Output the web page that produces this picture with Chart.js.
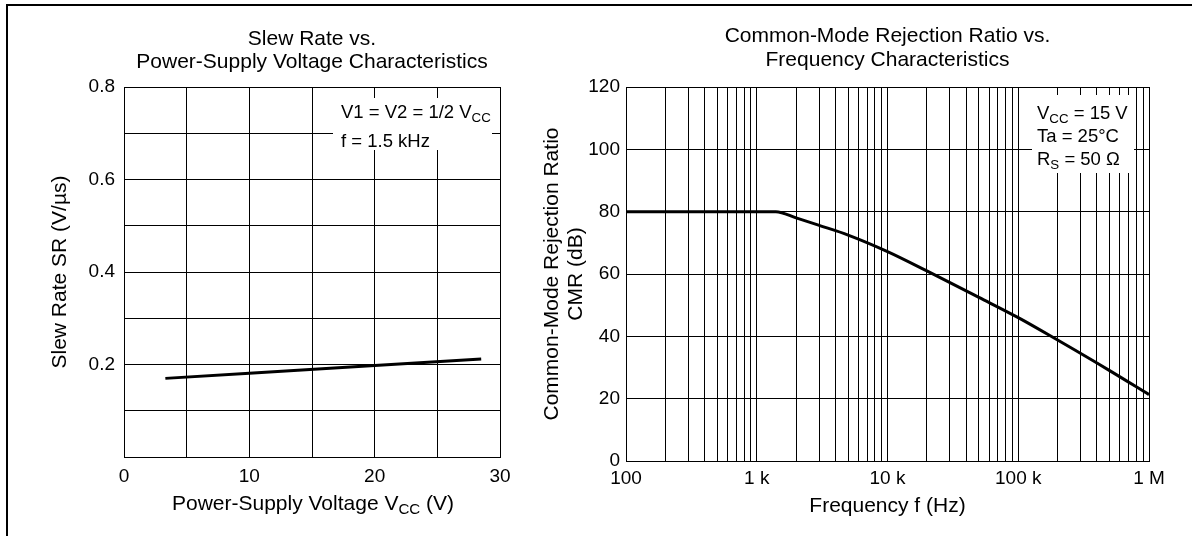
<!DOCTYPE html>
<html>
<head>
<meta charset="utf-8">
<script src="https://cdn.jsdelivr.net/npm/chart.js@4.4.1/dist/chart.umd.min.js"></script>
<style>
  html, body { margin: 0; padding: 0; background: #fff; }
  #wrap { position: relative; width: 1192px; height: 536px; overflow: hidden; background: #fff; }
  canvas { position: absolute; top: 0; }
  #c1 { left: 0; }
  #c2 { left: 520px; }
  .frameTop { position: absolute; left: 6px; top: 4px; width: 1186px; height: 2px; background: #000; }
  .frameLeft { position: absolute; left: 6px; top: 4px; width: 2px; height: 532px; background: #000; }
</style>
</head>
<body>
<div id="wrap">
  <div class="frameTop"></div>
  <div class="frameLeft"></div>
  <canvas id="c1" width="520" height="536"></canvas>
  <canvas id="c2" width="672" height="536"></canvas>
</div>
<script>
// ---------- Data: Slew rate vs supply voltage ----------
const vccValues = [3.3, 10, 20, 28.5];            // V
const srValues  = [0.170, 0.181, 0.198, 0.212];   // V/us
const vccTicks = [0, 5, 10, 15, 20, 25, 30];
const vccTickLabels = ['0', '', '10', '', '20', '', '30'];
const srTicks = [0, 0.1, 0.2, 0.3, 0.4, 0.5, 0.6, 0.7, 0.8];
const srTickLabels = ['', '', '0.2', '', '0.4', '', '0.6', '', '0.8'];

// ---------- Data: CMR vs frequency ----------
const freqValues = [100, 1000, 1400, 2000, 3000, 5000, 10000, 20000, 50000, 100000, 200000, 500000, 1000000]; // Hz
const cmrValues  = [80, 80, 80, 78.0, 75.6, 72.5, 67.2, 61.0, 52.5, 46.0, 38.8, 29.0, 21.3];                  // dB
const freqDecades = [100, 1000, 10000, 100000, 1000000];
const freqTickLabels = ['100', '1 k', '10 k', '100 k', '1 M'];
const cmrTicks = [0, 20, 40, 60, 80, 100, 120];
const cmrTickLabels = ['0', '20', '40', '60', '80', '100', '120'];

const FONT = '"Liberation Sans", Arial, Helvetica, sans-serif';
Chart.defaults.font.family = FONT;
Chart.defaults.color = '#000';

// draw text with optional subscript parts: parts = [[text, isSub], ...]
function partsWidth(ctx, parts, size) {
  let w = 0;
  for (const [t, sub] of parts) {
    ctx.font = (sub ? size * 0.72 : size) + 'px ' + FONT;
    w += ctx.measureText(t).width;
  }
  return w;
}
function drawParts(ctx, parts, x, y, size, align) {
  const total = partsWidth(ctx, parts, size);
  let cx = align === 'center' ? x - total / 2 : x;
  ctx.textBaseline = 'middle';
  ctx.textAlign = 'left';
  for (const [t, sub] of parts) {
    ctx.font = (sub ? size * 0.72 : size) + 'px ' + FONT;
    ctx.fillText(t, cx, sub ? y + size * 0.28 : y);
    cx += ctx.measureText(t).width;
  }
}

function makeTextPlugin(cfg) {
  return {
    id: 'txt',
    beforeDatasetsDraw(chart) {
      const ctx = chart.ctx;
      if (cfg.box) {
        ctx.save();
        ctx.fillStyle = '#fff';
        ctx.fillRect(cfg.box.x, cfg.box.y, cfg.box.w, cfg.box.h);
        ctx.restore();
      }
    },
    afterDraw(chart) {
      const ctx = chart.ctx;
      ctx.save();
      ctx.fillStyle = '#000';
      for (const it of cfg.items) {
        if (it.rot) {
          ctx.save();
          ctx.translate(it.x, it.y);
          ctx.rotate(-Math.PI / 2);
          drawParts(ctx, it.parts, 0, 0, it.size, 'center');
          ctx.restore();
        } else {
          drawParts(ctx, it.parts, it.x, it.y, it.size, it.align || 'center');
        }
      }
      ctx.restore();
    }
  };
}

const gridCfg = { color: '#000', lineWidth: 1, drawTicks: false };
const borderCfg = { color: '#000', width: 1 };

// ---------- Left chart ----------
new Chart(document.getElementById('c1'), {
  type: 'scatter',
  data: {
    datasets: [{
      data: vccValues.map((v, i) => ({ x: v, y: srValues[i] })),
      showLine: true, borderColor: '#000', borderWidth: 3, pointRadius: 0, tension: 0
    }]
  },
  options: {
    responsive: false, animation: false, devicePixelRatio: 1,
    layout: { padding: { top: 87, right: 20, left: 0, bottom: 0 } },
    plugins: { legend: { display: false }, tooltip: { enabled: false } },
    scales: {
      x: {
        type: 'linear', min: 0, max: 30,
        grid: gridCfg, border: borderCfg,
        afterBuildTicks: s => { s.ticks = vccTicks.map(v => ({ value: v })); },
        afterFit: s => { s.height = 79; },
        ticks: { autoSkip: false, maxRotation: 0, padding: 8, font: { size: 19 },
                 callback: (v) => vccTickLabels[vccTicks.indexOf(v)] ?? '' }
      },
      y: {
        type: 'linear', min: 0, max: 0.8,
        grid: gridCfg, border: borderCfg,
        afterBuildTicks: s => { s.ticks = srTicks.map(v => ({ value: v })); },
        afterFit: s => { s.width = 124; },
        ticks: { autoSkip: false, padding: 9, font: { size: 19 },
                 callback: (v, i) => srTickLabels[i] ?? '' }
      }
    }
  },
  plugins: [makeTextPlugin({
    box: { x: 333, y: 98, w: 159, h: 52 },
    items: [
      { parts: [['Slew Rate vs.', false]], x: 312, y: 39.5, size: 21 },
      { parts: [['Power-Supply Voltage Characteristics', false]], x: 312, y: 62.5, size: 21 },
      { parts: [['Slew Rate SR (V/\u00B5s)', false]], x: 60, y: 272, size: 21, rot: true },
      { parts: [['Power-Supply Voltage V', false], ['CC', true], [' (V)', false]], x: 313, y: 504, size: 21 },
      { parts: [['V1 = V2 = 1/2 V', false], ['CC', true]], x: 341, y: 113, size: 18.5, align: 'left' },
      { parts: [['f = 1.5 kHz', false]], x: 341, y: 141.5, size: 18.5, align: 'left' }
    ]
  })]
});

// ---------- Right chart ----------
const logTicks = [];
for (let d = 0; d < freqDecades.length - 1; d++) {
  for (let m = 1; m <= 9; m++) logTicks.push(freqDecades[d] * m);
}
logTicks.push(freqDecades[freqDecades.length - 1]);

new Chart(document.getElementById('c2'), {
  type: 'scatter',
  data: {
    datasets: [{
      data: freqValues.map((f, i) => ({ x: f, y: cmrValues[i] })),
      showLine: true, borderColor: '#000', borderWidth: 3, pointRadius: 0,
      cubicInterpolationMode: 'monotone'
    }]
  },
  options: {
    responsive: false, animation: false, devicePixelRatio: 1,
    layout: { padding: { top: 87, right: 43, left: 0, bottom: 0 } },
    plugins: { legend: { display: false }, tooltip: { enabled: false } },
    scales: {
      x: {
        type: 'logarithmic', min: 100, max: 1000000,
        grid: gridCfg, border: borderCfg,
        afterBuildTicks: s => { s.ticks = logTicks.map(v => ({ value: v })); },
        afterFit: s => { s.height = 75; },
        ticks: { autoSkip: false, maxRotation: 0, padding: 6, font: { size: 19 },
                 callback: (v) => { const k = freqDecades.indexOf(v); return k >= 0 ? freqTickLabels[k] : ''; } }
      },
      y: {
        type: 'linear', min: 0, max: 120,
        grid: gridCfg, border: borderCfg,
        afterBuildTicks: s => { s.ticks = cmrTicks.map(v => ({ value: v })); },
        afterFit: s => { s.width = 106; },
        ticks: { autoSkip: false, padding: 6, font: { size: 19 },
                 callback: (v, i) => cmrTickLabels[i] ?? '' }
      }
    }
  },
  plugins: [makeTextPlugin({
    box: { x: 512, y: 95, w: 102, h: 78 },
    items: [
      { parts: [['Common-Mode Rejection Ratio vs.', false]], x: 367.5, y: 36.5, size: 21 },
      { parts: [['Frequency Characteristics', false]], x: 367.5, y: 60, size: 21 },
      { parts: [['Common-Mode Rejection Ratio', false]], x: 32, y: 274, size: 21, rot: true },
      { parts: [['CMR (dB)', false]], x: 56, y: 274, size: 21, rot: true },
      { parts: [['Frequency f (Hz)', false]], x: 367.5, y: 506, size: 21 },
      { parts: [['V', false], ['CC', true], [' = 15 V', false]], x: 517, y: 114, size: 18.5, align: 'left' },
      { parts: [['Ta = 25\u00B0C', false]], x: 517, y: 137, size: 18.5, align: 'left' },
      { parts: [['R', false], ['S', true], [' = 50 \u03A9', false]], x: 517, y: 160, size: 18.5, align: 'left' }
    ]
  })]
});
</script>
</body>
</html>
